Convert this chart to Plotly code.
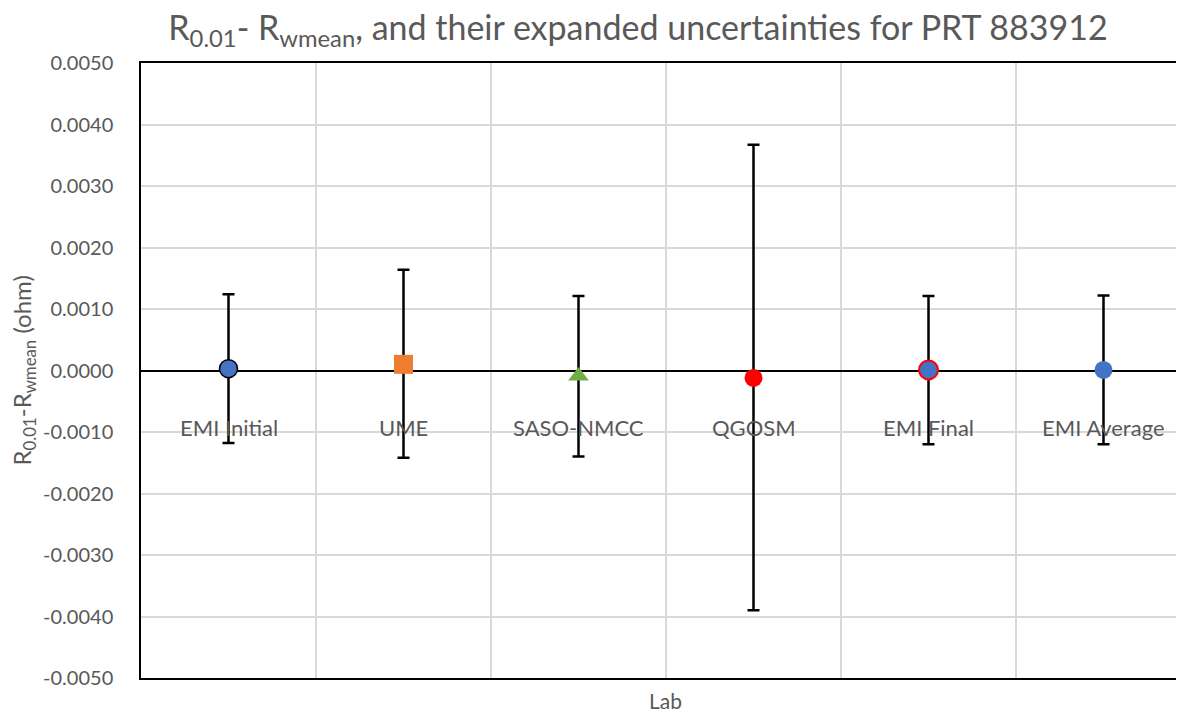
import plotly.graph_objects as go

labs = ["EMI Initial", "UME", "SASO-NMCC", "QGOSM", "EMI Final", "EMI Average"]
values = [0.00003, 0.00010, -0.00009, -0.00012, 0.00001, 0.00001]
err_plus = [0.00121, 0.00154, 0.00130, 0.00379, 0.00120, 0.00121]
err_minus = [0.00121, 0.00152, 0.00131, 0.00378, 0.00121, 0.00121]

marker_symbols = ["circle", "square", "triangle-up", "circle", "circle", "circle"]
marker_colors = ["#4472C4", "#ED7D31", "#70AD47", "#FF0000", "#4472C4", "#4472C4"]
marker_line_colors = ["#000000", "#ED7D31", "#70AD47", "#FF0000", "#FF0000", "#4472C4"]
marker_line_widths = [1.5, 0, 0, 0, 2, 0]
marker_sizes = [18, 19, 18, 18, 19, 18]

y_tickvals = [0.005, 0.004, 0.003, 0.002, 0.001, 0.0, -0.001, -0.002, -0.003, -0.004, -0.005]
y_ticktext = ["0.0050", "0.0040", "0.0030", "0.0020", "0.0010", "0.0000",
              "-0.0010", "-0.0020", "-0.0030", "-0.0040", "-0.0050"]
x_gridvals = [0.5, 1.5, 2.5, 3.5, 4.5]

FONT = "Lato, Carlito, Calibri, sans-serif"
GREY = "#595959"

fig = go.Figure()
for i, lab in enumerate(labs):
    fig.add_trace(go.Scatter(
        x=[i], y=[values[i]], mode="markers", name=lab,
        marker=dict(symbol=marker_symbols[i], color=marker_colors[i], size=marker_sizes[i],
                    line=dict(color=marker_line_colors[i], width=marker_line_widths[i])),
        error_y=dict(type="data", symmetric=False, array=[err_plus[i]], arrayminus=[err_minus[i]],
                     color="black", thickness=2.5, width=6),
        showlegend=False,
    ))

for i, lab in enumerate(labs):
    fig.add_annotation(x=i, y=0, xref="x", yref="y", text=lab, showarrow=False,
                       yshift=-57, font=dict(family=FONT, size=22, color=GREY))

fig.update_layout(
    width=1176, height=702,
    margin=dict(l=133, r=0, t=55, b=32),
    paper_bgcolor="white", plot_bgcolor="white",
    title=dict(text="R<sub>0.01</sub>- R<sub>wmean</sub>, and their expanded uncertainties for PRT 883912",
               x=(638 - 8) / 1176, xanchor="center", y=0.971, yanchor="middle",
               font=dict(family=FONT, size=34, color=GREY)),
    xaxis=dict(range=[-0.5, 5.46], tickvals=[], showticklabels=False,
               showgrid=False, zeroline=False,
               minor=dict(tickvals=x_gridvals, showgrid=True, gridcolor="#D9D9D9", gridwidth=1.5, ticks=""),
               showline=True, linecolor="black", linewidth=1.5, mirror=True, ticks=""),
    yaxis=dict(range=[-0.005, 0.005], tickvals=y_tickvals, ticktext=y_ticktext,
               showgrid=True, gridcolor="#D9D9D9", gridwidth=1.5,
               zeroline=True, zerolinecolor="black", zerolinewidth=1.5,
               showline=True, linecolor="black", linewidth=1.5, ticks="",
               ticklabelstandoff=22,
               tickfont=dict(family=FONT, size=20, color=GREY)),
)

fig.add_annotation(text="Lab", xref="paper", yref="paper", x=0.503, y=0, yanchor="top", yshift=-8,
                   showarrow=False, font=dict(family=FONT, size=21, color=GREY))
fig.add_annotation(text="R<sub>0.01</sub>-R<sub>wmean</sub> (ohm)", xref="paper", yref="paper",
                   x=0, xanchor="center", xshift=-118, y=0.5, textangle=-90, showarrow=False,
                   font=dict(family=FONT, size=24, color=GREY))

fig.write_html("out.html")
